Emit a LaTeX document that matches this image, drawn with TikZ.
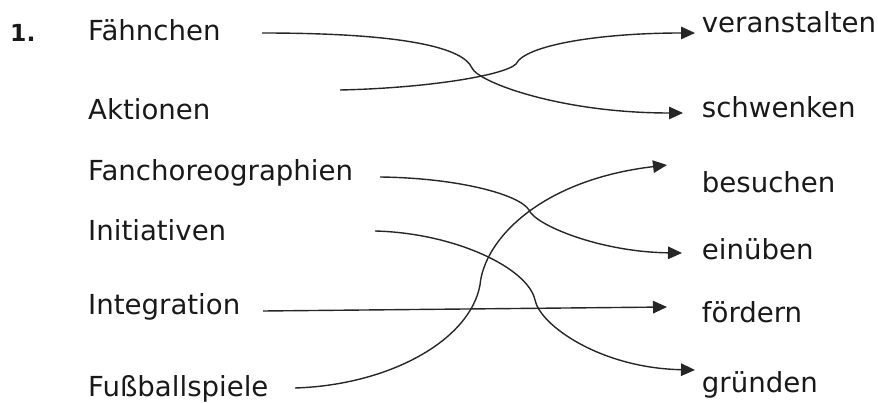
\documentclass[tikz,border=0pt]{standalone}
\usepackage{fontspec}
\setmainfont{DejaVu Sans}
\usetikzlibrary{arrows.meta}
\begin{document}
\begin{tikzpicture}[x=1pt,y=-1pt,
  word/.style={anchor=base west,inner sep=0pt,font=\fontsize{27.6}{32}\selectfont,text=black!90},
  num/.style={anchor=base west,inner sep=0pt,font=\bfseries\fontsize{23.5}{28}\selectfont,text=black!90},
  link/.style={line width=1.4pt,draw=black!85,-{Triangle[length=14pt,width=12.5pt]}}]
\useasboundingbox (0,0) rectangle (878,403);
\node[num] (n1) at (10,41.7) {1.};
% left column
\node[word] (l1) at (88,40.7) {Fähnchen};
\node[word] (l2) at (88,120) {Aktionen};
\node[word] (l3) at (88,180.7) {Fanchoreographien};
\node[word] (l4) at (88,241) {Initiativen};
\node[word] (l5) at (88,315) {Integration};
\node[word] (l6) at (88,396.7) {Fußballspiele};
% right column
\node[word] (r1) at (701.7,33) {veranstalten};
\node[word] (r2) at (701.7,118) {schwenken};
\node[word] (r3) at (701.7,193) {besuchen};
\node[word] (r4) at (701.7,260) {einüben};
\node[word] (r5) at (701.7,323) {fördern};
\node[word] (r6) at (701.7,392) {gründen};
% connector ends
\coordinate (s1) at (262,33);   \coordinate (e1) at (683,113);
\coordinate (s2) at (340,90);   \coordinate (e2) at (695,33);
\coordinate (s3) at (380,177);  \coordinate (e3) at (682,253);
\coordinate (s4) at (375,231);  \coordinate (e4) at (695,370);
\coordinate (s5) at (263,311);  \coordinate (e5) at (667,307);
\coordinate (s6) at (295,388);  \coordinate (e6) at (667,165);
% connectors
\draw[link] (s1) .. controls (390,33) and (462,45) .. (472,68) .. controls (478,82) and (560,113) .. (e1);
\draw[link] (s2) .. controls (430,88) and (505,75) .. (516,64) .. controls (525,45) and (600,33) .. (e2);
\draw[link] (s3) .. controls (460,178) and (520,195) .. (529,210) .. controls (535,225) and (600,252) .. (e3);
\draw[link] (s4) .. controls (455,233) and (528,268) .. (535,300) .. controls (540,325) and (600,368) .. (e4);
\draw[link] (s5) -- (e5);
\draw[link] (s6) .. controls (390,385) and (470,340) .. (480,285) .. controls (484,240) and (540,180) .. (e6);
\end{tikzpicture}
\end{document}
